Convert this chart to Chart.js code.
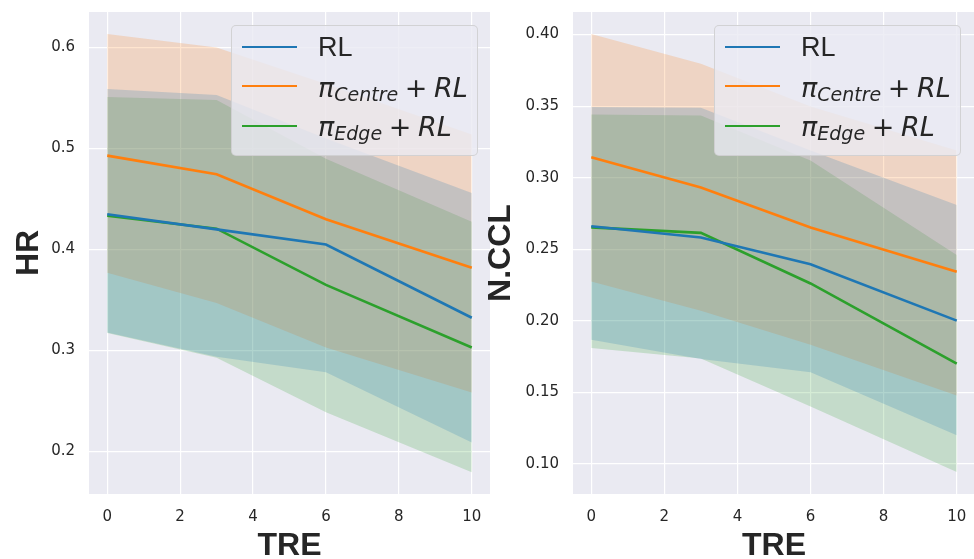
<!DOCTYPE html>
<html>
<head>
<meta charset="utf-8">
<script src="https://cdn.jsdelivr.net/npm/chart.js@4.4.1/dist/chart.umd.min.js"></script>
<style>
  html, body { margin: 0; padding: 0; background: #fff; overflow: hidden; }
  #wrap { position: relative; width: 974px; height: 559px; overflow: hidden; }
  .panel { position: absolute; top: 0; }
  .legend {
    position: absolute; top: 25px; width: 247px; height: 131px;
    background: rgba(234, 234, 242, 0.8); border: 1px solid rgba(204, 204, 204, 0.8);
    border-radius: 5px; box-sizing: border-box;
  }
  .legend .sw { position: absolute; left: 10px; width: 55px; height: 0; border-top: 2.5px solid; }
  .legend .lab { position: absolute; left: 86px; font-size: 27px; line-height: 27px; color: #262626; white-space: nowrap; }
  .legend .plain { font-family: "Liberation Sans", Arial, sans-serif; }
  .legend .math { font-family: "DejaVu Sans", sans-serif; word-spacing: -2px; }
  .legend .math i { font-style: italic; }
  .legend .math .sub { font-size: 19px; font-style: italic; position: relative; top: 4px; }
</style>
</head>
<body>
<div id="wrap">
  <div class="panel" style="left:0px"><canvas id="hrChart" width="492" height="559"></canvas></div>
  <div class="panel" style="left:484px"><canvas id="cclChart" width="491" height="559"></canvas></div>
  <div class="legend" style="left:231px">
    <div class="sw" style="top:20px;border-color:#1f77b4"></div>
    <div class="sw" style="top:59px;border-color:#ff7f0e"></div>
    <div class="sw" style="top:99px;border-color:#2ca02c"></div>
    <span class="lab plain" style="top:8px">RL</span>
    <span class="lab math" style="top:48px"><i>π</i><span class="sub">Centre</span> + <i>RL</i></span>
    <span class="lab math" style="top:87px"><i>π</i><span class="sub">Edge</span> + <i>RL</i></span>
  </div>
  <div class="legend" style="left:714px">
    <div class="sw" style="top:20px;border-color:#1f77b4"></div>
    <div class="sw" style="top:59px;border-color:#ff7f0e"></div>
    <div class="sw" style="top:99px;border-color:#2ca02c"></div>
    <span class="lab plain" style="top:8px">RL</span>
    <span class="lab math" style="top:48px"><i>π</i><span class="sub">Centre</span> + <i>RL</i></span>
    <span class="lab math" style="top:87px"><i>π</i><span class="sub">Edge</span> + <i>RL</i></span>
  </div>
</div>
<script>
  // x values (TRE) and tick labels
  const tre = [0, 3, 6, 10];
  const xTicks = [0, 2, 4, 6, 8, 10];
  const hrTicks = [0.2, 0.3, 0.4, 0.5, 0.6];
  const cclTicks = [0.10, 0.15, 0.20, 0.25, 0.30, 0.35, 0.40];

  // HR panel
  const hrRL = [0.435, 0.420, 0.405, 0.3325];
  const hrRLLow = [0.318, 0.294, 0.2786, 0.209];
  const hrRLHigh = [0.559, 0.553, 0.510, 0.456];
  const hrCentre = [0.493, 0.4746, 0.430, 0.382];
  const hrCentreLow = [0.377, 0.347, 0.303, 0.2585];
  const hrCentreHigh = [0.6135, 0.600, 0.564, 0.514];
  const hrEdge = [0.4335, 0.4207, 0.365, 0.303];
  const hrEdgeLow = [0.3175, 0.293, 0.239, 0.1796];
  const hrEdgeHigh = [0.551, 0.548, 0.490, 0.4275];

  // N.CCL panel
  const cclRL = [0.266, 0.2582, 0.2394, 0.200];
  const cclRLLow = [0.1866, 0.1732, 0.164, 0.1199];
  const cclRLHigh = [0.3493, 0.3489, 0.319, 0.2808];
  const cclCentre = [0.3142, 0.2931, 0.2652, 0.2342];
  const cclCentreLow = [0.2273, 0.207, 0.1831, 0.1476];
  const cclCentreHigh = [0.4005, 0.3796, 0.3497, 0.319];
  const cclEdge = [0.2652, 0.2614, 0.226, 0.1699];
  const cclEdgeLow = [0.1808, 0.1735, 0.140, 0.0941];
  const cclEdgeHigh = [0.3442, 0.3435, 0.312, 0.2459];

  const colors = ['#1f77b4', '#ff7f0e', '#2ca02c'];
  const bands = ['rgba(31,119,180,0.2)', 'rgba(255,127,14,0.2)', 'rgba(44,160,44,0.2)'];

  const pts = vals => vals.map((v, i) => ({ x: tre[i], y: v }));

  // grey plot background like seaborn darkgrid
  const bgPlugin = {
    id: 'bg',
    beforeDraw(chart) {
      const { ctx, chartArea: a } = chart;
      ctx.save();
      ctx.fillStyle = '#EAEAF2';
      ctx.fillRect(a.left, a.top, a.width, a.height);
      ctx.restore();
    }
  };

  function makeDatasets(series) {
    const sets = [];
    series.forEach((s, i) => {
      sets.push({ data: pts(s.high), borderWidth: 0, pointRadius: 0, fill: false, order: 2 });
      sets.push({ data: pts(s.low), borderWidth: 0, pointRadius: 0, fill: '-1', backgroundColor: bands[i], order: 2 });
    });
    series.forEach((s, i) => {
      sets.push({ data: pts(s.mean), borderColor: colors[i], borderWidth: 2.6, pointRadius: 0, fill: false, tension: 0, order: 1 });
    });
    return sets;
  }

  function makeChart(id, series, yMin, yMax, yTicks, yTitle, yTitlePad, decimals) {
    const tickFont = { family: '"DejaVu Sans", sans-serif', size: 15 };
    const titleFont = { family: '"Liberation Sans", Arial, sans-serif', size: 32, weight: 'bold', lineHeight: 0.8 };
    return new Chart(document.getElementById(id), {
      type: 'line',
      data: { datasets: makeDatasets(series) },
      plugins: [bgPlugin],
      options: {
        responsive: false,
        animation: false,
        layout: { padding: { top: 12, right: id === 'hrChart' ? 2 : 0, left: 0, bottom: 0 } },
        plugins: { legend: { display: false }, tooltip: { enabled: false } },
        scales: {
          x: {
            type: 'linear', min: -0.5, max: 10.5,
            afterBuildTicks: s => { s.ticks = xTicks.map(v => ({ value: v })); },
            afterFit: s => { s.height = 65; s.paddingLeft = 0; s.paddingRight = 0; },
            grid: { color: '#ffffff', lineWidth: 1.2, drawTicks: false },
            border: { display: false },
            ticks: { font: tickFont, color: '#262626', padding: 14 },
            title: { display: true, text: 'TRE', font: titleFont, color: '#262626', padding: { top: 0, bottom: 0 } }
          },
          y: {
            type: 'linear', min: yMin, max: yMax,
            afterBuildTicks: s => { s.ticks = yTicks.map(v => ({ value: v })); },
            afterFit: s => { s.width = 89; s.paddingTop = 0; s.paddingBottom = 0; },
            grid: { color: '#ffffff', lineWidth: 1.2, drawTicks: false },
            border: { display: false },
            ticks: { font: tickFont, color: '#262626', padding: 14, callback: v => v.toFixed(decimals) },
            title: { display: true, text: yTitle, font: { ...titleFont, lineHeight: 1 }, color: '#262626', padding: { top: yTitlePad, bottom: 0 } }
          }
        }
      }
    });
  }

  makeChart('hrChart', [
    { mean: hrRL, low: hrRLLow, high: hrRLHigh },
    { mean: hrCentre, low: hrCentreLow, high: hrCentreHigh },
    { mean: hrEdge, low: hrEdgeLow, high: hrEdgeHigh }
  ], 0.158, 0.6352, hrTicks, 'HR', 13, 1);

  makeChart('cclChart', [
    { mean: cclRL, low: cclRLLow, high: cclRLHigh },
    { mean: cclCentre, low: cclCentreLow, high: cclCentreHigh },
    { mean: cclEdge, low: cclEdgeLow, high: cclEdgeHigh }
  ], 0.0788, 0.4158, cclTicks, 'N.CCL', 1, 2);
</script>
</body>
</html>
